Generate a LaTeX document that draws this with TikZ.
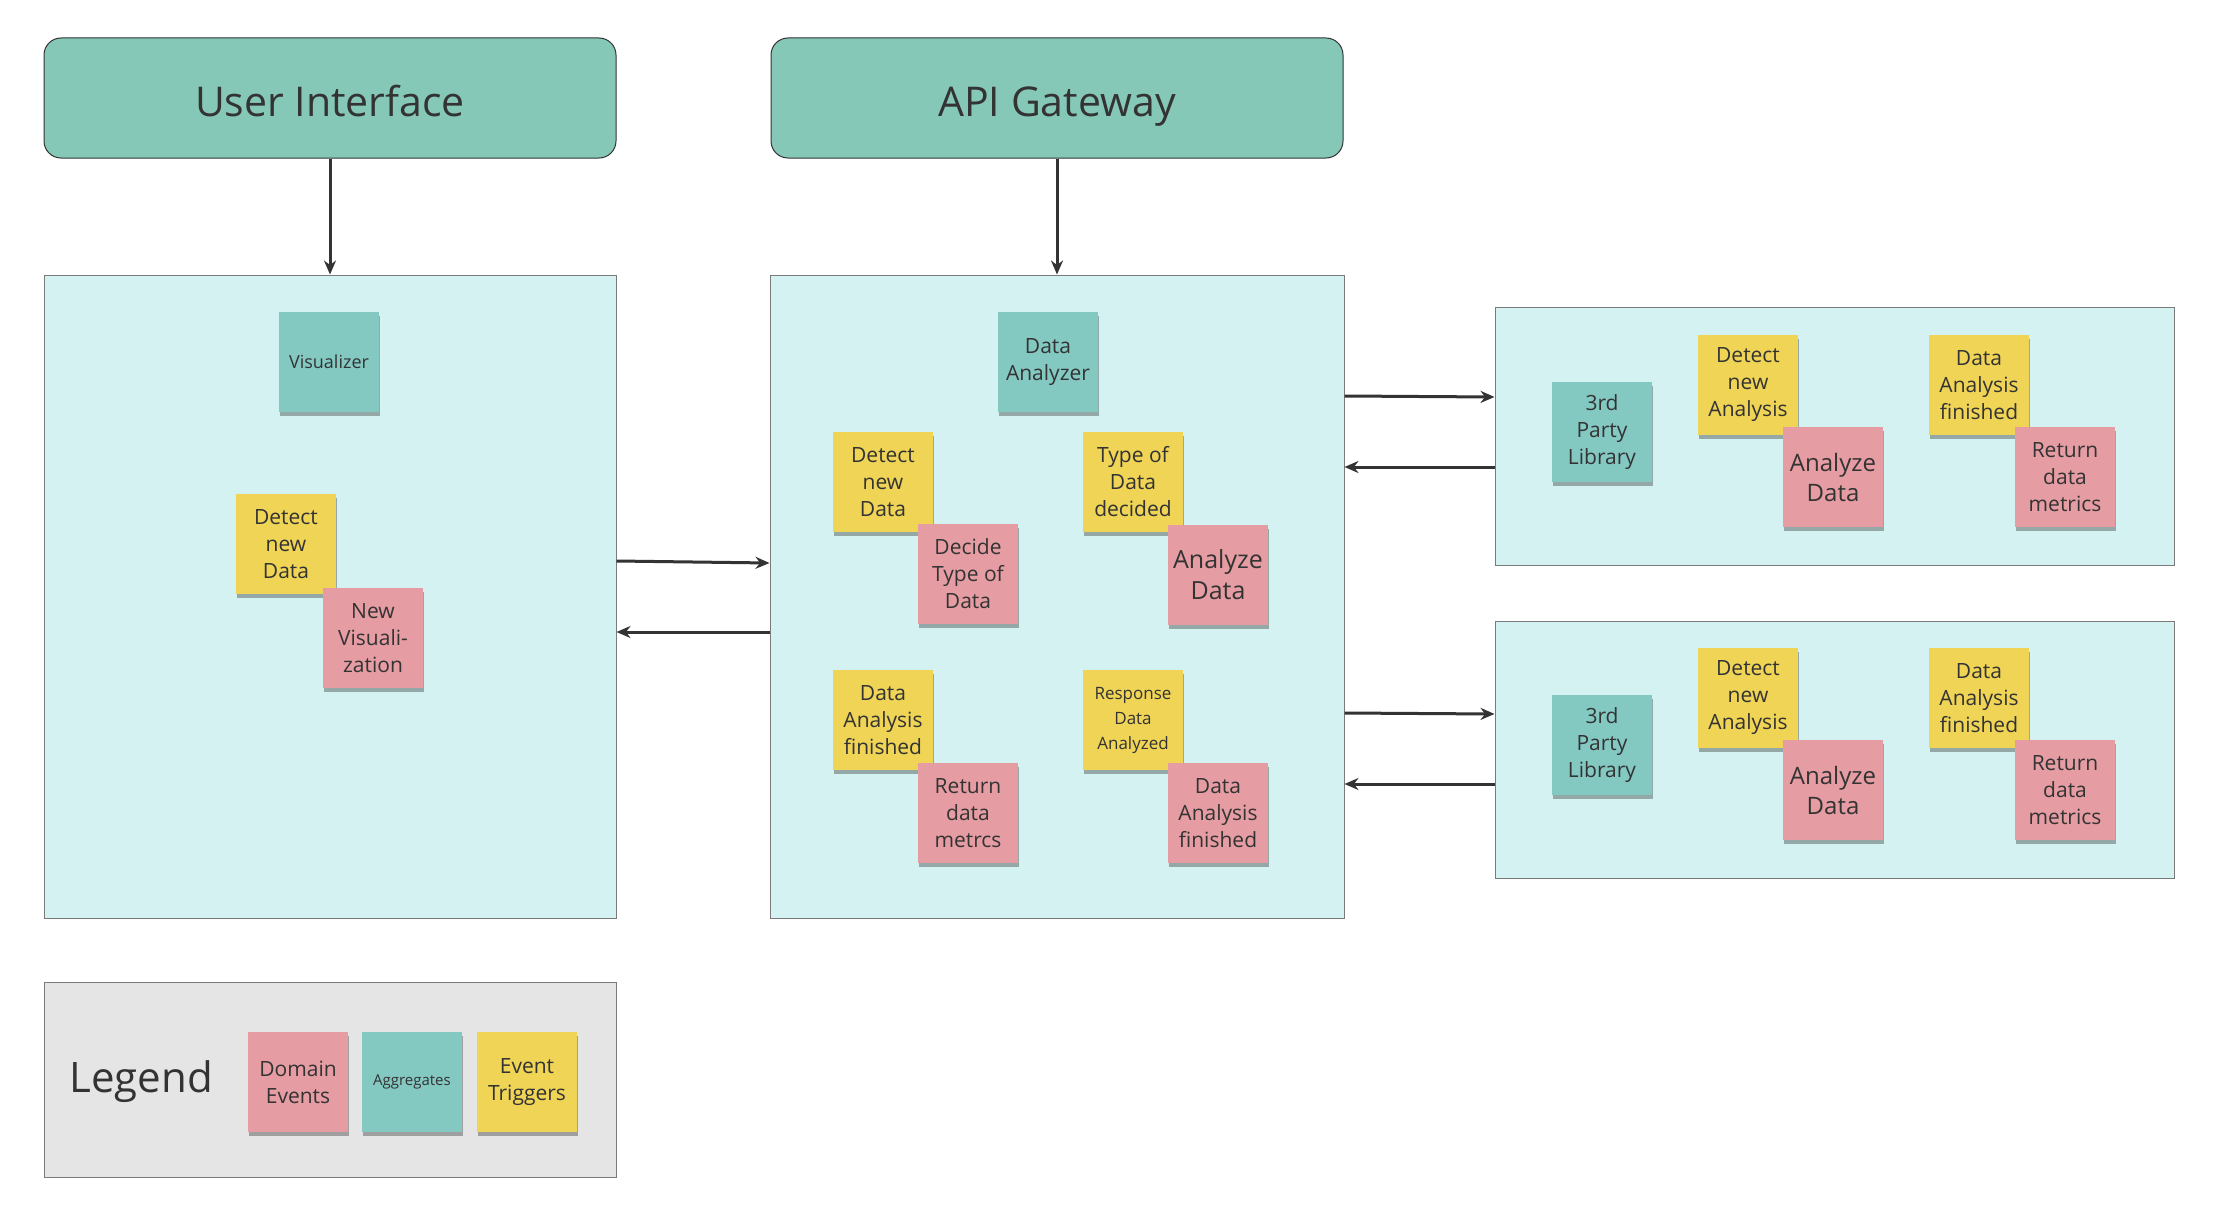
\documentclass[tikz,border=0pt]{standalone}
\usepackage{fontspec}
\setmainfont{Open Sans}
\usetikzlibrary{shadows}
\usetikzlibrary{arrows.meta}

\definecolor{headteal}{HTML}{86C8B7}
\definecolor{lanecyan}{HTML}{D5F2F2}
\definecolor{edgegray}{HTML}{7A7A7A}
\definecolor{noteyellow}{HTML}{EFD456}
\definecolor{notepink}{HTML}{E59CA2}
\definecolor{noteteal}{HTML}{84C8C2}
\definecolor{legendgray}{HTML}{E5E5E5}
\definecolor{inkgray}{HTML}{333333}

\tikzset{
  header/.style={draw=inkgray,fill=headteal,rounded corners=8.5pt,line width=0.5pt,
    minimum width=286pt,minimum height=60pt,font=\fontsize{20.5}{24}\selectfont,text=inkgray,
    text height=19.5pt,text depth=1pt},
  lane/.style={draw=edgegray,fill=lanecyan,line width=0.5pt},
  sticky/.style={minimum width=50pt,minimum height=50pt,inner sep=0pt,align=center,
    text=inkgray,font=\fontsize{10.5}{13.5}\selectfont,
    drop shadow={shadow xshift=0.5pt,shadow yshift=-2pt,opacity=0.3,fill=black}},
  event/.style={sticky,fill=notepink},
  aggregate/.style={sticky,fill=noteteal},
  trigger/.style={sticky,fill=noteyellow},
  link/.style={-{Stealth[length=7pt,width=6pt]},draw=inkgray,line width=1.5pt}
}

\begin{document}
\begin{tikzpicture}[x=0.5pt,y=-0.5pt]
\useasboundingbox (0,0) rectangle (2232,1220);

% headers
\node[header] (ui) at (330,98) {User Interface};
\node[header] (api) at (1057,98) {API Gateway};

% lanes
\node[lane,minimum width=286pt,minimum height=321.5pt] (uilane) at (330,596.5) {};
\node[lane,minimum width=287pt,minimum height=321.5pt] (anlane) at (1057,596.5) {};
\node[lane,minimum width=339.5pt,minimum height=129pt] (libtop) at (1834.5,436) {};
\node[lane,minimum width=339.5pt,minimum height=128.5pt] (libbot) at (1834.5,749.5) {};
\node[draw=edgegray,fill=legendgray,line width=0.5pt,minimum width=286pt,minimum height=97.5pt] (legend) at (330,1079.5) {};

% user interface lane
\node[aggregate,font=\fontsize{9}{11}\selectfont] (vis) at (329,362) {Visualizer};
\node[trigger] (uidetect) at (286,544) {Detect\\new\\Data};
\node[event] (newvis) at (373,638) {New\\Visuali-\\zation};

% analyzer lane
\node[aggregate] (analyzer) at (1048,362) {Data\\Analyzer};
\node[trigger] (andetect) at (883,482) {Detect\\new\\Data};
\node[event] (decide) at (968,574) {Decide\\Type of\\Data};
\node[trigger] (decided) at (1133,482) {Type of\\Data\\decided};
\node[event,font=\fontsize{12.5}{15.5}\selectfont] (analyze) at (1218,575) {Analyze\\Data};
\node[trigger] (finished) at (883,720) {Data\\Analysis\\finished};
\node[event] (metrcs) at (968,813) {Return\\data\\metrcs};
\node[trigger,font=\fontsize{8.5}{12.5}\selectfont] (response) at (1133,720) {Response\\Data\\Analyzed};
\node[event] (anfinished) at (1218,813) {Data\\Analysis\\finished};

% library lanes
\foreach \dy/\tag in {0/a,313/b}{
  \node[aggregate] (lib\tag) at (1602,432+\dy) {3rd\\Party\\Library};
  \node[trigger] (libdetect\tag) at (1748,385+\dy) {Detect\\new\\Analysis};
  \node[event,font=\fontsize{12}{15}\selectfont] (libanalyze\tag) at (1833,477+\dy) {Analyze\\Data};
  \node[trigger] (libfinished\tag) at (1979,385+\dy) {Data\\Analysis\\finished};
  \node[event] (libmetrics\tag) at (2065,477+\dy) {Return\\data\\metrics};
}

% legend
\node[font=\fontsize{21}{25}\selectfont,text=inkgray] (legendtext) at (141,1082) {Legend};
\node[event] (keyevent) at (298,1082) {Domain\\Events};
\node[aggregate,font=\fontsize{7.5}{9}\selectfont] (keyagg) at (412,1082) {Aggregates};
\node[trigger] (keytrigger) at (527,1082) {Event\\Triggers};

% connectors
\draw[link] (ui) -- (uilane);
\draw[link] (api) -- (anlane);
\draw[link] (uilane.east |- 0,561) -- (anlane.west |- 0,563);
\draw[link] (anlane.west |- 0,632) -- (uilane.east |- 0,632);
\draw[link] (anlane.east |- 0,396) -- (libtop.west |- 0,397);
\draw[link] (libtop.west |- 0,467) -- (anlane.east |- 0,467);
\draw[link] (anlane.east |- 0,713) -- (libbot.west |- 0,714);
\draw[link] (libbot.west |- 0,784) -- (anlane.east |- 0,784);
\end{tikzpicture}
\end{document}
